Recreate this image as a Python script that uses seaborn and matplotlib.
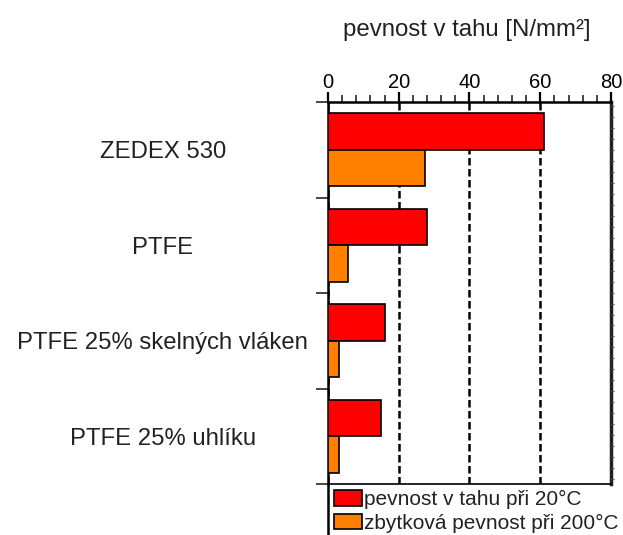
import pandas as pd
import matplotlib.pyplot as plt
import seaborn as sns
from matplotlib.ticker import MultipleLocator, FixedLocator, NullFormatter

sns.set_style("white")
plt.rcParams["font.family"] = ["Liberation Sans", "DejaVu Sans"]

# data
materialy = ["ZEDEX 530", "PTFE", "PTFE 25% skelných vláken", "PTFE 25% uhlíku"]
serie = ["pevnost v tahu při 20°C", "zbytková pevnost při 200°C"]
pevnost_20 = [61, 28, 16, 15]
pevnost_200 = [27.3, 5.6, 3.2, 3.0]
barvy = ["#ff0000", "#ff8000"]

df = pd.DataFrame({
    "material": materialy * 2,
    "serie": [serie[0]] * 4 + [serie[1]] * 4,
    "hodnota": pevnost_20 + pevnost_200,
})

fig = plt.figure(figsize=(6.23, 5.35), dpi=100)
ax = fig.add_axes([0.5265, 0.0953, 0.4542, 0.714])

sns.barplot(data=df, y="material", x="hodnota", hue="serie", order=materialy,
            hue_order=serie, palette=barvy, saturation=1, orient="h", width=0.76,
            edgecolor="black", linewidth=1.2, ax=ax, zorder=3)

ax.set_xlim(0, 80)
ax.set_ylim(3.5, -0.5)
ax.set_xlabel("")
ax.set_ylabel("")

# osa x nahore
ax.xaxis.set_ticks_position("top")
ax.xaxis.set_label_position("top")
ax.xaxis.set_major_locator(MultipleLocator(20))
ax.xaxis.set_minor_locator(MultipleLocator(4))
ax.tick_params(axis="x", which="major", direction="out", length=7, width=1.6,
               labelsize=14.5, pad=0, colors="black")
ax.tick_params(axis="x", which="minor", direction="out", length=5, width=1.2,
               top=True, bottom=False)
ax.grid(axis="x", which="major", color="black", linestyle=(0, (3, 1.4)),
        linewidth=1.8, zorder=1)

# osa y - hranice kategorii a popisky
ax.yaxis.set_major_locator(FixedLocator([-0.5, 0.5, 1.5, 2.5, 3.5]))
ax.yaxis.set_major_formatter(NullFormatter())
ax.yaxis.set_minor_locator(FixedLocator([0, 1, 2, 3]))
ax.set_yticklabels(materialy, minor=True)
ax.tick_params(axis="y", which="major", direction="out", length=9, width=1.2,
               left=True, right=False)
ax.tick_params(axis="y", which="minor", length=0, labelsize=17.2, pad=119,
               left=True, right=False, labelcolor="#222222")
for t in ax.get_yticklabels(minor=True):
    t.set_horizontalalignment("center")

for side in ["top", "left"]:
    ax.spines[side].set_linewidth(1.8)
    ax.spines[side].set_color("black")
ax.spines["bottom"].set_linewidth(1.2)
ax.spines["bottom"].set_color("black")
ax.spines["right"].set_linewidth(2.5)
ax.spines["right"].set_color("#222222")

# leva cara pokracuje pod legendu
ax.plot([0, 0], [0, -0.2], transform=ax.transAxes, color="black",
        linewidth=1.8, clip_on=False)

# drobne carky na prave strane
ax2 = ax.twinx()
ax2.set_ylim(ax.get_ylim())
ax2.yaxis.set_major_locator(MultipleLocator(0.115))
ax2.yaxis.set_major_formatter(NullFormatter())
ax2.tick_params(axis="y", direction="out", length=2, width=0.8, color="#555555")
for s in ax2.spines.values():
    s.set_visible(False)

handles, labels = ax.get_legend_handles_labels()
ax.legend(handles, labels, loc="upper left", bbox_to_anchor=(0, 0),
          frameon=False, fontsize=15, handlelength=1.35, handleheight=0.75,
          handletextpad=0.1, labelspacing=0.2, borderpad=0.3,
          borderaxespad=0.0, labelcolor="#222222")

fig.text(0.75, 0.943, "pevnost v tahu [N/mm²]", ha="center", va="center",
         fontsize=17.3, color="#222222")

fig.savefig("out.png", dpi=100)
